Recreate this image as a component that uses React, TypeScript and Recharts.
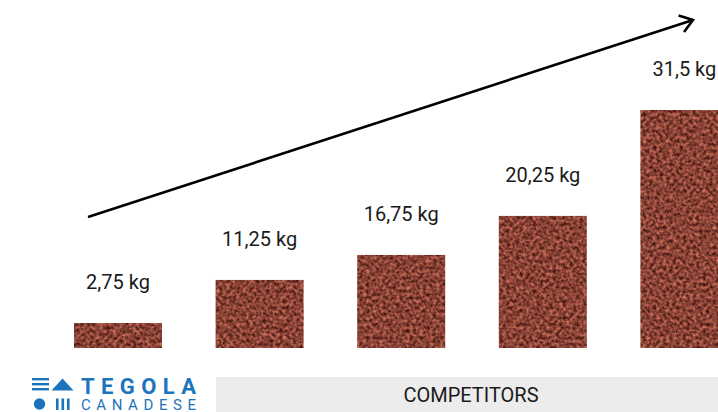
import { Bar, BarChart, LabelList, XAxis, YAxis } from 'recharts';

// products compared, left to right
const categories = ['Tegola Canadese', 'Competitor 1', 'Competitor 2', 'Competitor 3', 'Competitor 4'];
// weight printed above each bar
const weightsKg = [2.75, 11.25, 16.75, 20.25, 31.5];
// drawn bar height, relative to the tallest bar (the bars are not to scale)
const barLevels = [10.5, 28.6, 39.1, 55.5, 100];
const groupLabel = 'COMPETITORS';

const data = categories.map((name, i) => ({
  name,
  weight: weightsKg[i],
  level: barLevels[i],
}));

const BLUE = '#1c75bc';
const FONT = 'Roboto, "Noto Sans", sans-serif';

const formatKg = (value: any) => `${String(value).replace('.', ',')} kg`;

const TexturedBar = (props: any) => {
  const { x, y, width, height } = props;
  if (!height || height <= 0) return null;
  return (
    <rect x={x} y={y} width={width} height={height} fill="#874136" filter="url(#grain)" />
  );
};

function Logo() {
  return (
    <svg
      width={180}
      height={40}
      style={{ position: 'absolute', left: 28, top: 372 }}
      viewBox="28 372 180 40"
    >
      {/* three bars */}
      <rect x={32} y={378} width={17} height={2.4} fill={BLUE} />
      <rect x={32} y={383} width={17} height={2.4} fill={BLUE} />
      <rect x={32} y={388} width={17} height={2.4} fill={BLUE} />
      {/* triangle */}
      <polygon points="51.5,390.5 62.5,378.5 73.5,390.5" fill={BLUE} />
      {/* dot */}
      <circle cx={39.5} cy={404} r={5.7} fill={BLUE} />
      {/* three columns */}
      <rect x={56} y={398.5} width={2.6} height={11.5} fill={BLUE} />
      <rect x={61.5} y={398.5} width={2.6} height={11.5} fill={BLUE} />
      <rect x={67} y={398.5} width={2.6} height={11.5} fill={BLUE} />
      <text
        x={81}
        y={393.5}
        fill={BLUE}
        fontFamily={FONT}
        fontWeight={700}
        fontSize={22}
        textLength={115}
        lengthAdjust="spacing"
      >
        TEGOLA
      </text>
      <text
        x={81}
        y={409.5}
        fill={BLUE}
        fontFamily={FONT}
        fontWeight={400}
        fontSize={15}
        textLength={115}
        lengthAdjust="spacing"
      >
        CANADESE
      </text>
    </svg>
  );
}

export default function App() {
  return (
    <div
      style={{
        position: 'absolute',
        left: 0,
        top: 0,
        width: 718,
        height: 412,
        overflow: 'hidden',
        background: '#ffffff',
        fontFamily: FONT,
      }}
    >
      <BarChart
        width={760}
        height={412}
        data={data}
        margin={{ top: 110, right: 5, bottom: 64, left: 47 }}
        barSize={88}
      >
        <defs>
          <filter
            id="grain"
            x="0"
            y="0"
            width="1"
            height="1"
            colorInterpolationFilters="sRGB"
          >
            <feTurbulence type="fractalNoise" baseFrequency="0.3" numOctaves={2} seed={7} result="noise" />
            <feColorMatrix
              in="noise"
              type="matrix"
              values="0.95 0 0 0 0.06  0.6 0 0 0 -0.04  0.52 0 0 0 -0.05  0 0 0 0 1"
              result="tex"
            />
            <feComposite in="tex" in2="SourceGraphic" operator="in" />
          </filter>
        </defs>
        <XAxis dataKey="name" hide />
        <YAxis hide domain={[0, 100]} />
        <Bar dataKey="level" shape={TexturedBar} isAnimationActive={false}>
          <LabelList
            dataKey="weight"
            position="top"
            offset={34}
            formatter={formatKg}
            fill="#1a1a1a"
            fontSize={20}
            fontFamily={FONT}
          />
        </Bar>
      </BarChart>

      {/* trend arrow */}
      <svg
        width={718}
        height={412}
        style={{ position: 'absolute', left: 0, top: 0, pointerEvents: 'none' }}
      >
        <line x1={88} y1={217} x2={693} y2={20} stroke="#000" strokeWidth={2.6} />
        <polyline
          points="678.6,15.6 693,20 684,32"
          fill="none"
          stroke="#000"
          strokeWidth={2.6}
          strokeLinejoin="miter"
        />
      </svg>

      {/* group band */}
      <div
        style={{
          position: 'absolute',
          left: 216,
          top: 377,
          width: 502,
          height: 35,
          background: '#ececec',
          display: 'flex',
          alignItems: 'center',
          justifyContent: 'center',
          paddingLeft: 8,
          boxSizing: 'border-box',
          fontSize: 20,
          color: '#1a1a1a',
        }}
      >
        {groupLabel}
      </div>

      <Logo />
    </div>
  );
}
